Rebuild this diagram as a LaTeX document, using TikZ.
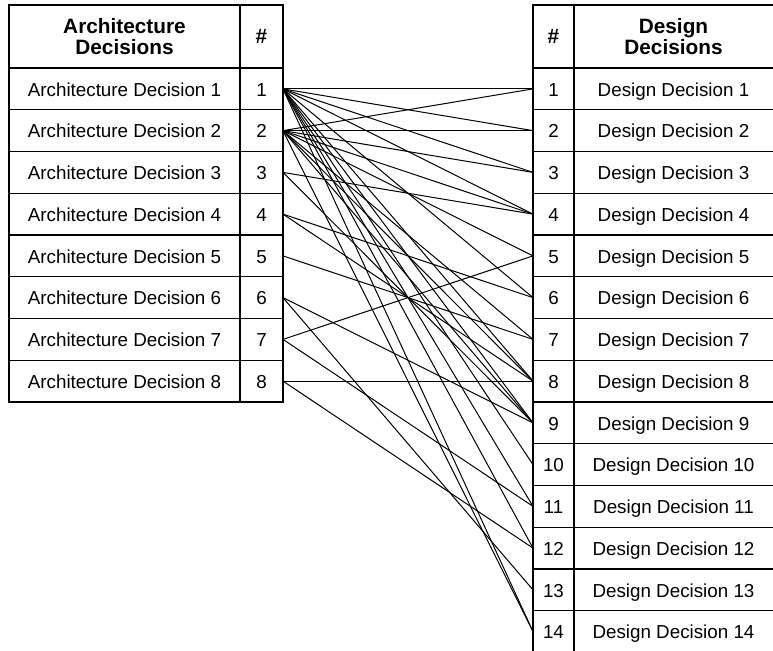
\documentclass[tikz,border=0pt]{standalone}
\usepackage{fontspec}
\setmainfont{Liberation Sans}
\begin{document}
\begin{tikzpicture}[x=0.5pt,y=-0.5pt,
  tbl/.style={line width=0.65pt,draw=black},
  link/.style={line width=0.5pt,draw=black},
  body/.style={inner sep=0pt,text height=0.72em,text depth=0pt,font=\fontsize{9.4}{11}\selectfont},
  head/.style={inner sep=0pt,align=center,font=\fontsize{10.4}{10.6}\selectfont\bfseries}]
\useasboundingbox (0,0) rectangle (773,650);
% left table
\draw[tbl] (9,5) rectangle (283,402);
\draw[tbl] (240,5) -- (240,402);
\foreach \k in {0,...,7} {\draw[tbl] (9,68+\k*41.75) -- (283,68+\k*41.75);}
% right table
\draw[tbl] (776,5) -- (533,5) -- (533,660);
\draw[tbl] (574,5) -- (574,660);
\foreach \k in {0,...,13} {\draw[tbl] (533,68+\k*41.75) -- (776,68+\k*41.75);}
% headers
\node[head] (hA) at (124.5,36.5) {Architecture\\Decisions};
\node[head] (hAn) at (261.5,36.5) {\#};
\node[head] (hDn) at (553.5,36.5) {\#};
\node[head] (hD) at (673.5,36.5) {Design\\Decisions};
% rows
\foreach \i in {1,...,8} {
  \pgfmathsetmacro\yy{68+(\i-0.5)*41.75}
  \node[body] (an\i) at (124.5,\yy) {Architecture Decision \i};
  \node[body] (ai\i) at (261.5,\yy) {\i};
  \coordinate (L\i) at (283,\yy);
}
\foreach \j in {1,...,14} {
  \pgfmathsetmacro\yy{68+(\j-0.5)*41.75}
  \node[body] (dn\j) at (553.5,\yy) {\j};
  \node[body] (dd\j) at (673.5,\yy) {Design Decision \j};
  \coordinate (R\j) at (533,\yy);
}
% links
\foreach \a/\b in {1/1,1/2,1/3,1/4,1/6,1/8,1/9,1/10,1/11,1/12,1/14,
                   2/1,2/2,2/3,2/4,2/5,2/7,2/8,2/9,2/14,
                   3/4,3/9,4/6,4/8,5/7,6/9,6/13,7/5,7/11,8/8,8/12} {
  \draw[link] (L\a) -- (R\b);
}
\end{tikzpicture}
\end{document}
